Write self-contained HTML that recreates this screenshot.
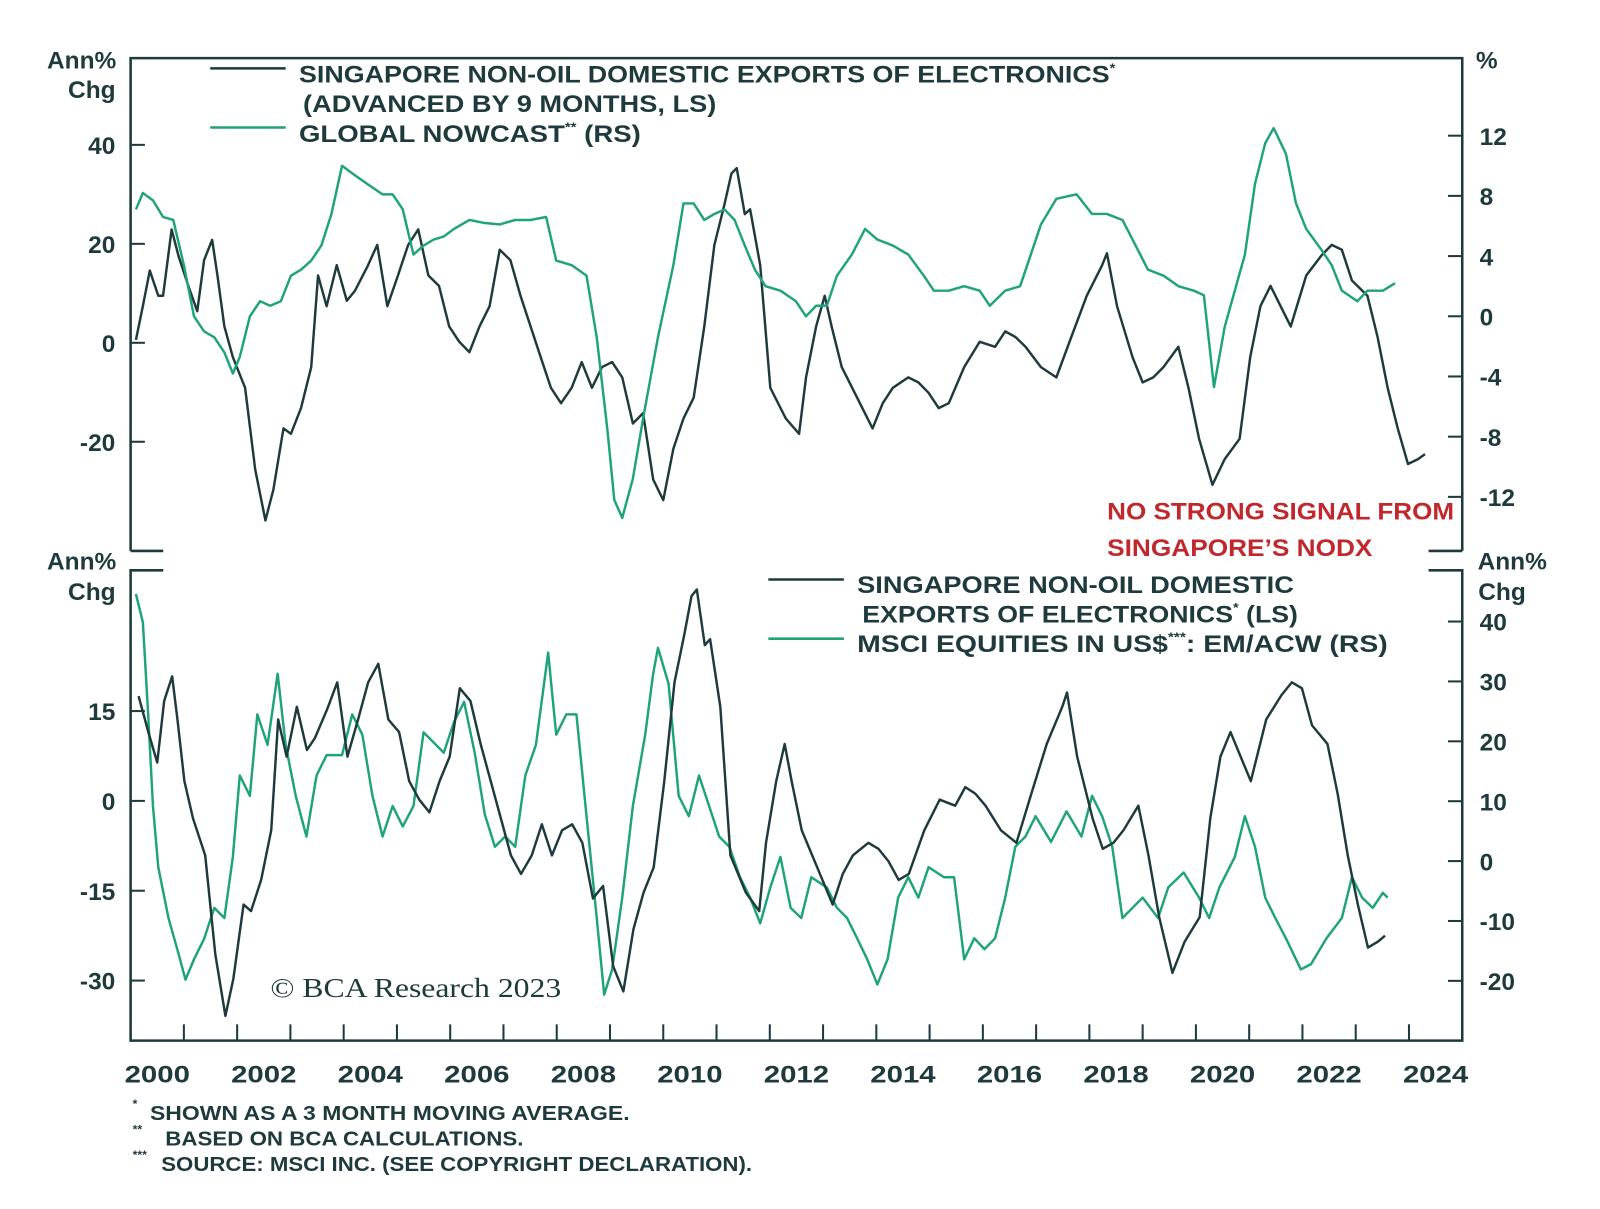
<!DOCTYPE html>
<html><head><meta charset="utf-8"><style>
html,body{margin:0;padding:0;background:#fff;width:1600px;height:1209px;overflow:hidden;}
svg{display:block;position:absolute;left:0;top:0;}
text{font-family:"Liberation Sans",sans-serif;font-weight:bold;fill:#1f3a3d;}
</style></head><body>
<svg id="chart" width="1600" height="1209" viewBox="0 0 1568 1185" preserveAspectRatio="none" xmlns="http://www.w3.org/2000/svg">
<g id="frames"></g>
<g id="marks"></g>
<g id="labels"></g>
<g>
<text x="80" y="67" font-size="24" text-anchor="middle">Ann%</text>
<text x="90" y="96" font-size="24" text-anchor="middle">Chg</text>
<text x="1457" y="67" font-size="24" text-anchor="middle">%</text>
<text x="80" y="558" font-size="24" text-anchor="middle">Ann%</text>
<text x="90" y="588" font-size="24" text-anchor="middle">Chg</text>
<text x="1482" y="558" font-size="24" text-anchor="middle">Ann%</text>
<text x="1472" y="588" font-size="24" text-anchor="middle">Chg</text>
</g>
<g>
<line x1="206" x2="280" y1="67" y2="67" stroke="#1f3a3d" stroke-width="2.5"/>
<text x="293" y="81" font-size="24" textLength="800" lengthAdjust="spacingAndGlyphs">SINGAPORE NON-OIL DOMESTIC EXPORTS OF ELECTRONICS<tspan font-size="13" dy="-10">*</tspan></text>
<text x="297" y="110" font-size="24" textLength="405" lengthAdjust="spacingAndGlyphs">(ADVANCED BY 9 MONTHS, LS)</text>
<line x1="206" x2="280" y1="125" y2="125" stroke="#1ea37b" stroke-width="2.5"/>
<text x="293" y="139" font-size="24" textLength="335" lengthAdjust="spacingAndGlyphs">GLOBAL NOWCAST<tspan font-size="13" dy="-10">**</tspan><tspan dy="10"> (RS)</tspan></text>
</g>
<g>
<line x1="753" x2="827" y1="568" y2="568" stroke="#1f3a3d" stroke-width="2.5"/>
<text x="840" y="581" font-size="24" textLength="428" lengthAdjust="spacingAndGlyphs">SINGAPORE NON-OIL DOMESTIC</text>
<text x="845" y="610" font-size="24" textLength="427" lengthAdjust="spacingAndGlyphs">EXPORTS OF ELECTRONICS<tspan font-size="13" dy="-10">*</tspan><tspan dy="10"> (LS)</tspan></text>
<line x1="753" x2="827" y1="626" y2="626" stroke="#1ea37b" stroke-width="2.5"/>
<text x="840" y="639" font-size="24" textLength="520" lengthAdjust="spacingAndGlyphs">MSCI EQUITIES IN US$<tspan font-size="13" dy="-10">***</tspan><tspan dy="10">: EM/ACW (RS)</tspan></text>
</g>
<text x="1085" y="509" font-size="24" textLength="340" lengthAdjust="spacingAndGlyphs" style="fill:#c0282d">NO STRONG SIGNAL FROM</text>
<text x="1085" y="545" font-size="24" textLength="260" lengthAdjust="spacingAndGlyphs" style="fill:#c0282d">SINGAPORE’S NODX</text>
<text x="265" y="977" font-size="27" textLength="285" lengthAdjust="spacingAndGlyphs" style="font-family:'Liberation Serif',serif;font-weight:normal">© BCA Research 2023</text>
<g>
<text x="130" y="1086" font-size="12">*</text>
<text x="147" y="1098" font-size="20" textLength="470" lengthAdjust="spacingAndGlyphs">SHOWN AS A 3 MONTH MOVING AVERAGE.</text>
<text x="130" y="1111" font-size="12">**</text>
<text x="162" y="1123" font-size="20" textLength="351" lengthAdjust="spacingAndGlyphs">BASED ON BCA CALCULATIONS.</text>
<text x="130" y="1136" font-size="12">***</text>
<text x="158" y="1148" font-size="20" textLength="579" lengthAdjust="spacingAndGlyphs">SOURCE: MSCI INC. (SEE COPYRIGHT DECLARATION).</text>
</g>
</svg>
<script>
// ---- data (years offset from 2000) ----
const nodxYears = [0.10,0.23,0.36,0.52,0.61,0.77,0.90,1.09,1.25,1.38,1.53,1.63,1.76,1.92,2.15,2.34,2.53,2.68,2.87,3.01,3.20,3.39,3.52,3.68,3.87,4.06,4.21,4.44,4.63,4.82,5.02,5.21,5.40,5.59,5.79,5.98,6.17,6.36,6.55,6.74,6.93,7.13,7.32,7.51,7.70,7.89,8.08,8.28,8.47,8.66,8.85,9.04,9.23,9.43,9.62,9.81,10.00,10.19,10.38,10.57,10.77,10.96,11.15,11.28,11.38,11.53,11.63,11.82,12.01,12.30,12.55,12.68,12.87,13.03,13.16,13.35,13.64,13.93,14.12,14.31,14.60,14.79,14.98,15.17,15.36,15.65,15.94,16.23,16.42,16.61,16.80,17.09,17.38,17.66,17.95,18.24,18.33,18.52,18.81,19.00,19.20,19.39,19.67,19.86,20.06,20.31,20.54,20.82,21.02,21.21,21.40,21.59,21.78,22.07,22.36,22.55,22.74,22.93,23.22,23.41,23.60,23.79,23.98,24.17,24.30];
const nodxValues = [0.6,7.4,14.6,9.5,9.5,22.9,17.5,11.3,6.4,16.7,20.8,13.6,3.3,-2.9,-9.1,-25.6,-35.9,-29.7,-17.3,-18.4,-13.2,-4.9,13.6,7.4,15.7,8.5,10.5,15.3,19.8,7.4,13.6,19.8,22.9,13.6,11.5,3.3,0.2,-1.9,3.3,7.4,18.8,16.7,9.5,3.3,-2.9,-9.1,-12.2,-9.1,-3.9,-9.1,-4.9,-3.9,-7.0,-16.3,-14.2,-27.6,-31.8,-21.4,-15.3,-11.1,3.3,19.8,28.0,34.2,35.3,26.0,27.0,15.7,-9.1,-15.3,-18.4,-7.0,3.3,9.5,3.3,-4.9,-11.1,-17.3,-12.2,-9.1,-7.0,-8.0,-10.1,-13.2,-12.2,-4.9,0.2,-0.8,2.3,1.2,-0.8,-4.9,-7.0,1.2,9.5,15.7,18.1,7.4,-2.9,-8.0,-7.0,-4.9,-0.8,-9.1,-19.4,-28.7,-23.5,-19.4,-2.9,7.4,11.5,7.4,3.3,13.6,17.7,19.8,18.8,12.6,9.5,1.2,-9.1,-17.3,-24.5,-23.5,-22.5];
const nodxLeadYears = 0.75; // top panel advanced by 9 months
const nowcastYears = [0.10,0.23,0.42,0.61,0.80,1.00,1.19,1.38,1.57,1.76,1.92,2.05,2.24,2.43,2.62,2.82,3.01,3.20,3.39,3.58,3.77,3.97,4.16,4.44,4.73,4.92,5.11,5.31,5.50,5.69,5.88,6.07,6.36,6.65,6.93,7.22,7.51,7.80,7.99,8.28,8.56,8.75,8.95,9.08,9.23,9.43,9.62,9.90,10.19,10.38,10.57,10.77,10.96,11.15,11.34,11.53,11.72,11.92,12.20,12.49,12.68,12.87,13.07,13.26,13.54,13.79,14.02,14.31,14.60,14.89,15.08,15.36,15.65,15.94,16.13,16.42,16.70,16.90,17.09,17.38,17.76,18.05,18.33,18.62,18.81,19.10,19.39,19.67,19.96,20.15,20.34,20.54,20.73,20.92,21.11,21.30,21.46,21.69,21.88,22.07,22.36,22.55,22.74,23.03,23.22,23.51,23.74];
const nowcastValues = [7.1,8.2,7.7,6.6,6.4,3.4,0,-1.0,-1.4,-2.4,-3.8,-2.7,0,1.0,0.7,1.0,2.7,3.1,3.7,4.7,6.8,10.0,9.5,8.8,8.1,8.1,7.1,4.1,4.7,5.1,5.3,5.8,6.4,6.2,6.1,6.4,6.4,6.6,3.7,3.4,2.7,-1.4,-7.5,-12.2,-13.4,-10.8,-6.8,-1.4,3.4,7.5,7.5,6.4,6.8,7.1,6.4,4.7,3.1,2.0,1.7,1.0,0,0.7,0.7,2.7,4.1,5.8,5.1,4.7,4.1,2.7,1.7,1.7,2.0,1.7,0.7,1.7,2.0,4.1,6.1,7.8,8.1,6.8,6.8,6.4,5.1,3.1,2.7,2.0,1.7,1.4,-4.7,-0.7,1.7,4.1,8.8,11.5,12.5,10.8,7.5,5.8,4.4,3.4,1.7,1.0,1.7,1.7,2.2];
const msciYears = [0.10,0.23,0.33,0.42,0.52,0.71,0.90,1.03,1.19,1.38,1.57,1.76,1.92,2.05,2.24,2.38,2.57,2.76,2.91,3.10,3.30,3.49,3.68,3.97,4.16,4.35,4.54,4.73,4.92,5.11,5.31,5.50,5.69,5.88,6.07,6.26,6.46,6.65,6.84,7.03,7.22,7.41,7.61,7.84,7.99,8.18,8.37,8.56,8.75,8.89,9.04,9.23,9.43,9.66,9.81,9.90,10.10,10.29,10.48,10.67,10.86,11.05,11.24,11.44,11.63,11.82,12.01,12.20,12.39,12.59,12.78,13.07,13.26,13.45,13.64,13.83,14.02,14.21,14.41,14.60,14.79,14.98,15.27,15.46,15.65,15.84,16.03,16.23,16.42,16.61,16.80,16.99,17.28,17.57,17.85,18.05,18.24,18.43,18.62,18.81,19.00,19.29,19.48,19.77,20.06,20.25,20.44,20.73,20.92,21.11,21.30,21.49,21.69,21.97,22.16,22.45,22.74,22.93,23.12,23.32,23.51,23.60];
const msciValues = [44.6,39.9,24.5,9.2,-1.0,-9.5,-15.5,-19.8,-16.4,-13.0,-7.8,-9.5,0.7,14.3,10.9,24.5,19.4,31.3,19.4,10.9,4.1,14.3,17.7,17.7,24.5,21.1,10.9,4.1,9.2,5.8,9.2,21.5,19.8,18.1,23.2,26.6,18.1,7.8,2.4,4.1,2.4,14.3,19.4,34.8,21.1,24.5,24.5,7.5,-9.5,-22.3,-18.1,-6.1,9.2,21.1,31.3,35.6,29.6,10.9,7.5,14.3,9.2,4.1,2.4,-2.7,-6.1,-10.4,-4.4,0.7,-7.8,-9.5,-2.7,-4.4,-7.8,-9.5,-12.9,-16.4,-20.6,-16.4,-6.1,-2.7,-6.1,-1.0,-2.7,-2.7,-16.4,-12.9,-14.7,-12.9,-6.1,2.4,4.1,7.5,3.2,8.3,4.1,10.9,7.5,2.4,-9.5,-7.8,-6.1,-9.5,-4.4,-1.9,-6.1,-9.5,-4.4,0.7,7.5,2.4,-6.1,-9.5,-12.9,-18.1,-17.2,-12.9,-9.5,-2.7,-6.1,-7.8,-5.3,-6.1];
const xTickLabels = ["2000","2002","2004","2006","2008","2010","2012","2014","2016","2018","2020","2022","2024"];
const topLeftTicks = [40,20,0,-20];
const topRightTicks = [12,8,4,0,-4,-8,-12];
const botLeftTicks = [15,0,-15,-30];
const botRightTicks = [40,30,20,10,0,-10,-20];

// ---- scales ----
const X0=128, X1=1433, PXY=52.2;
const x = t => X0 + t*PXY;
const yTopL = v => 336 - v*4.85;
const yTopR = v => 310 - v*14.75;
const yBotL = v => 785 - v*5.87;
const yBotR = v => 844 - v*5.87;
const DARK="#1f3a3d", GREEN="#1ea37b", NS="http://www.w3.org/2000/svg";
const frames=document.getElementById('frames'), marks=document.getElementById('marks'), labels=document.getElementById('labels');
function mk(tag,attrs,parent){const e=document.createElementNS(NS,tag);for(const k in attrs)e.setAttribute(k,attrs[k]);parent.appendChild(e);return e;}
function txt(s,xx,yy,size,anchor,parent){const e=mk('text',{x:xx,y:yy,'font-size':size,'text-anchor':anchor||'start'},parent);e.textContent=s;return e;}
function line(pts,color,name){
  const d=pts.map((p,i)=>(i?'L':'M')+p[0].toFixed(1)+' '+p[1].toFixed(1)).join(' ');
  const p=mk('path',{d:d,fill:'none',stroke:color,'stroke-width':2.4,'stroke-linejoin':'round'},marks);
  
  
}
const fs={stroke:DARK,'stroke-width':2.5,fill:'none'};
let f=mk('path',Object.assign({d:`M${X0} 540 V57 H${X1} V540 M${X0} 540 H160 M1400 540 H${X1}`},fs),frames);


f=mk('path',Object.assign({d:`M160 559 H${X0} V1020 H${X1} V559 H1400`},fs),frames);


function tickL(yy){mk('line',{x1:X0,x2:X0+14,y1:yy,y2:yy,stroke:DARK,'stroke-width':2},frames);}
function tickR(yy){mk('line',{x1:X1-14,x2:X1,y1:yy,y2:yy,stroke:DARK,'stroke-width':2},frames);}
topLeftTicks.forEach(v=>{tickL(yTopL(v));const t=txt(String(v),113,yTopL(v)+9,24,'end',labels);});
topRightTicks.forEach(v=>{tickR(yTopR(v));const t=txt(String(v),1450,yTopR(v)+9,24,'start',labels);});
botLeftTicks.forEach(v=>{tickL(yBotL(v));const t=txt(String(v),113,yBotL(v)+9,24,'end',labels);});
botRightTicks.forEach(v=>{tickR(yBotR(v));const t=txt(String(v),1450,yBotR(v)+9,24,'start',labels);});
for(let i=1;i<25;i++){mk('line',{x1:x(i),x2:x(i),y1:1020,y2:1004,stroke:DARK,'stroke-width':2},frames);}
xTickLabels.forEach((s,i)=>{const t=txt(s,x(i*2+0.5),1061,24,'middle',labels);t.setAttribute('textLength','64');t.setAttribute('lengthAdjust','spacingAndGlyphs');});
line(nodxYears.map((t,i)=>[x(t),yTopL(nodxValues[i])]),DARK,'top-nodx-line');
line(nowcastYears.map((t,i)=>[x(t),yTopR(nowcastValues[i])]),GREEN,'global-nowcast-line');
line(msciYears.map((t,i)=>[x(t),yBotR(msciValues[i])]),GREEN,'msci-em-acw-line');
const bp=[];nodxYears.forEach((t,i)=>{const tt=t-nodxLeadYears;if(tt>=0.05)bp.push([x(tt),yBotL(nodxValues[i])]);});
line(bp,DARK,'bottom-nodx-line');
</script>
</body></html>
